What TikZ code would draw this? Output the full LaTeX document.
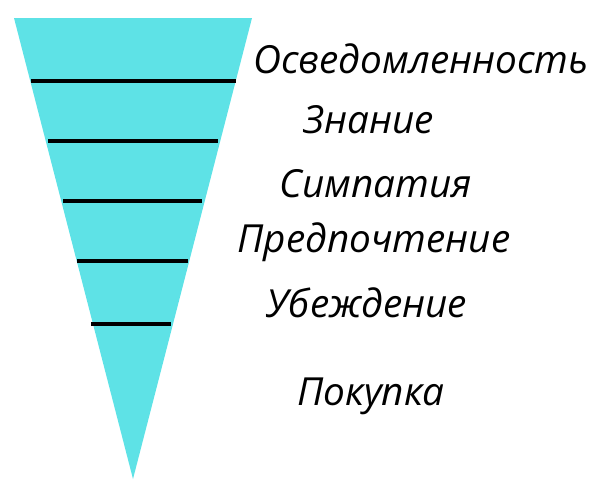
\documentclass[tikz,border=0pt]{standalone}
\usepackage{fontspec}
\setmainfont{Open Sans}
\definecolor{funnel}{HTML}{5EE2E6}
\begin{document}
\begin{tikzpicture}[x=1pt,y=-1pt,
  lbl/.style={font=\itshape\fontsize{38.7}{44}\selectfont, anchor=base, inner sep=0pt},
  sep/.style={line width=3.3pt, black}]
\useasboundingbox (0,0) rectangle (600,480);
\fill[funnel] (14,18) -- (252,18) -- (133,479) -- cycle;
\coordinate (l1a) at (31,81);  \coordinate (l1b) at (236,81);
\coordinate (l2a) at (48,141); \coordinate (l2b) at (218,141);
\coordinate (l3a) at (63,201); \coordinate (l3b) at (202,201);
\coordinate (l4a) at (77,261); \coordinate (l4b) at (188,261);
\coordinate (l5a) at (91,324); \coordinate (l5b) at (171,324);
\draw[sep] (l1a) -- (l1b);
\draw[sep] (l2a) -- (l2b);
\draw[sep] (l3a) -- (l3b);
\draw[sep] (l4a) -- (l4b);
\draw[sep] (l5a) -- (l5b);
\node[lbl] (t1) at (421,73) {Осведомленность};
\node[lbl] (t2) at (369,133) {Знание};
\node[lbl] (t3) at (376,197) {Симпатия};
\node[lbl] (t4) at (374,252) {Предпочтение};
\node[lbl] (t5) at (367,317) {Убеждение};
\node[lbl] (t6) at (371,405) {Покупка};
\end{tikzpicture}
\end{document}
